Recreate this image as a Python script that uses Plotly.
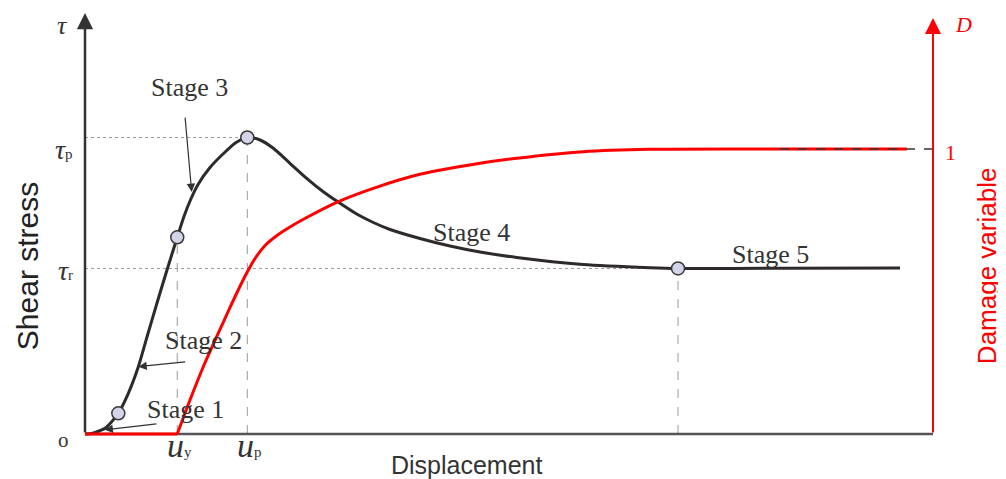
import plotly.graph_objects as go

# ---------------- data (relative units) ----------------
# shear stress curve (tau normalised by peak tau_p)
disp_tau = [0.0, 0.079, 0.153, 0.236, 0.307, 0.393, 0.511, 0.629, 0.731, 0.849,
            0.967, 1.088, 1.167, 1.246, 1.333, 1.474, 1.671, 1.781, 1.914, 2.064,
            2.221, 2.417, 2.614, 2.810, 2.968, 3.204, 3.400, 3.597, 3.950, 4.304,
            4.658, 5.091, 5.873, 6.663, 6.993, 8.196, 9.611]
tau = [0.0, 0.0017, 0.0084, 0.0192, 0.0388, 0.0698, 0.1373, 0.2270, 0.3271, 0.4418,
       0.5531, 0.6634, 0.7336, 0.7909, 0.8415, 0.8988, 0.9562, 0.9831, 1.0, 0.9916,
       0.9636, 0.9130, 0.8624, 0.8172, 0.7858, 0.7420, 0.7133, 0.6897, 0.6594, 0.6341,
       0.6138, 0.5953, 0.5717, 0.5609, 0.5582, 0.5589, 0.5599]

# damage variable curve
disp_D = [0.0, 1.088, 1.238, 1.395, 1.553, 1.710, 1.804, 1.907, 2.005, 2.123,
          2.264, 2.417, 2.614, 2.968, 3.400, 3.950, 4.658, 5.091, 5.873, 6.663,
          8.231, 9.690]
damage = [0.0, 0.0, 0.1193, 0.2361, 0.3414, 0.4439, 0.5035, 0.5649, 0.6158, 0.6614,
          0.6965, 0.7263, 0.7596, 0.8130, 0.8621, 0.9112, 0.9498, 0.9674, 0.9905, 0.9989,
          1.0, 1.0]

# characteristic points
stage_pt_x = [0.393, 1.088, 1.914, 6.993]
stage_pt_y = [0.0698, 0.6634, 1.000, 0.5582]
u_y, u_p, u_r = 1.088, 1.914, 6.993
tau_p, tau_r = 1.0, 0.5582
D_max = 1.0
dash_start = 8.196

stage_names = ["Stage 1", "Stage 2", "Stage 3", "Stage 4", "Stage 5"]

# ---------------- layout constants ----------------
X_RANGE = [-0.1179, 10.0]
Y_RANGE = [-0.03373, 1.41990]
D_RANGE = [-0.03509, 1.47719]
X_END = 10.0
D_TIP = 1.4596
SERIF = "Liberation Serif"
SANS = "Liberation Sans"
DARK = "#2e2a2a"
GUIDE = "#9a9a9a"
RED = "#ff0000"
SMOOTH = 0.7

fig = go.Figure()

# red damage curve: flat part + rising part
fig.add_trace(go.Scatter(x=disp_D[:2], y=damage[:2], mode="lines", yaxis="y2",
                         line=dict(color=RED, width=3), hoverinfo="skip"))
fig.add_trace(go.Scatter(x=disp_D[1:], y=damage[1:], mode="lines", yaxis="y2",
                         line=dict(color=RED, width=3, shape="spline", smoothing=SMOOTH),
                         hoverinfo="skip"))
# black shear curve
fig.add_trace(go.Scatter(x=disp_tau, y=tau, mode="lines",
                         line=dict(color=DARK, width=3, shape="spline", smoothing=SMOOTH),
                         hoverinfo="skip"))
# stage markers
fig.add_trace(go.Scatter(x=stage_pt_x, y=stage_pt_y, mode="markers", cliponaxis=False,
                         marker=dict(size=13, color="#d3d3ea",
                                     line=dict(color="#3a3a3a", width=1.5)),
                         hoverinfo="skip"))

shapes = []
# horizontal dotted guides
for yv, xe in [(tau_p, u_p), (tau_r, u_r)]:
    shapes.append(dict(type="line", xref="x", yref="y", x0=0, x1=xe, y0=yv, y1=yv,
                       line=dict(color=GUIDE, width=1, dash="dot"), layer="below"))
# vertical dashed guides
for xv, yv in [(u_y, stage_pt_y[1]), (u_p, tau_p), (u_r, tau_r)]:
    shapes.append(dict(type="line", xref="x", yref="y", x0=xv, x1=xv, y0=0, y1=yv,
                       line=dict(color=GUIDE, width=1, dash="dash"), layer="below"))
# bottom axis
shapes.append(dict(type="line", xref="x", yref="y", x0=0, x1=X_END, y0=0, y1=0,
                   line=dict(color="#555555", width=2.5), layer="below"))
# dashed D = 1 asymptote
shapes.append(dict(type="line", xref="x", yref="y2", x0=dash_start, x1=X_END,
                   y0=D_max, y1=D_max, line=dict(color="#333333", width=1.3, dash="dash")))
fig.update_layout(shapes=shapes)

ann = []
# axes with arrow heads
ann.append(dict(x=0, y=Y_RANGE[1], xref="x", yref="y", ax=0, ay=0, axref="x", ayref="y",
                text="", showarrow=True, arrowhead=2, arrowsize=1.3, arrowwidth=2.5,
                arrowcolor="#333333"))
ann.append(dict(x=X_END, y=D_TIP, xref="x", yref="y2", ax=X_END, ay=0, axref="x", ayref="y2",
                text="", showarrow=True, arrowhead=2, arrowsize=1.6, arrowwidth=2,
                arrowcolor=RED))
# stage pointer arrows (tip, tail)
for (tx, ty, sx, sy) in [(0.23, 0.014, 0.86, 0.035), (0.629, 0.227, 1.199, 0.244),
                         (1.258, 0.816, 1.179, 1.072)]:
    ann.append(dict(x=tx, y=ty, xref="x", yref="y", ax=sx, ay=sy, axref="x", ayref="y",
                    text="", showarrow=True, arrowhead=2, arrowsize=1.4, arrowwidth=1.2,
                    arrowcolor="#333333"))
# stage labels
for name, lx, ly in zip(stage_names, [1.191, 1.403, 1.238, 4.552, 8.078],
                        [0.081, 0.317, 1.167, 0.678, 0.604]):
    ann.append(dict(x=lx, y=ly, xref="x", yref="y", text=name, showarrow=False,
                    font=dict(family=SERIF, size=26, color="#333333")))
# tick-like labels
ann.append(dict(x=0, y=Y_RANGE[1], xref="x", yref="y", text="<i>τ</i>", showarrow=False,
                xanchor="center", yanchor="middle", xshift=-23, yshift=-12,
                font=dict(family=SERIF, size=26, color="#333333")))
ann.append(dict(x=0, y=tau_p, xref="x", yref="y",
                text="<i>τ</i><span style='font-size:15px'>p</span>", showarrow=False,
                xanchor="right", xshift=-10, yshift=-12,
                font=dict(family=SERIF, size=28, color="#333333")))
ann.append(dict(x=0, y=tau_r, xref="x", yref="y",
                text="<i>τ</i><span style='font-size:15px'>r</span>", showarrow=False,
                xanchor="right", xshift=-10, yshift=-2,
                font=dict(family=SERIF, size=28, color="#333333")))
ann.append(dict(x=0, y=0, xref="x", yref="y", text="o", showarrow=False,
                xshift=-22, yshift=-6, font=dict(family=SERIF, size=21, color="#333333")))
for uv, sub in [(u_y, "y"), (u_p, "p")]:
    ann.append(dict(x=uv, y=0, xref="x", yref="y",
                    text="<i>u</i><span style='font-size:15px'>" + sub + "</span>",
                    showarrow=False, yanchor="middle", xshift=2, yshift=-11,
                    font=dict(family=SERIF, size=34, color="#333333")))
ann.append(dict(x=X_END, y=D_max, xref="x", yref="y2", text="1", showarrow=False,
                xanchor="center", xshift=17, yshift=-3,
                font=dict(family=SERIF, size=22, color=RED)))
ann.append(dict(x=X_END, y=D_TIP, xref="x", yref="y2", text="<i>D</i>", showarrow=False,
                xshift=30, yshift=-6, font=dict(family=SERIF, size=22, color=RED)))
# axis titles
ann.append(dict(x=4.505, y=0, xref="x", yref="y", text="Displacement",
                showarrow=False, yanchor="middle", yshift=-31,
                font=dict(family=SANS, size=25, color="#333333")))
ann.append(dict(x=0, y=0.566, xref="x", yref="y", text="Shear stress", showarrow=False,
                textangle=-90, xshift=-58,
                font=dict(family=SANS, size=30, color="#222222")))
ann.append(dict(x=X_END, y=0.589, xref="x", yref="y2", text="Damage variable", showarrow=False,
                textangle=-90, xshift=54,
                font=dict(family=SANS, size=26, color=RED)))
fig.update_layout(annotations=ann)

# the page body adds an 8 px margin, so the figure is drawn 8 px smaller
fig.update_layout(
    width=998, height=471, autosize=False,
    margin=dict(l=67, r=73, t=5, b=35, pad=0),
    paper_bgcolor="white", plot_bgcolor="white", showlegend=False,
    xaxis=dict(range=X_RANGE, visible=False, fixedrange=True),
    yaxis=dict(range=Y_RANGE, visible=False, fixedrange=True),
    yaxis2=dict(range=D_RANGE, visible=False, overlaying="y", side="right", fixedrange=True),
)

fig.write_html("out.html", config={"displayModeBar": False})
